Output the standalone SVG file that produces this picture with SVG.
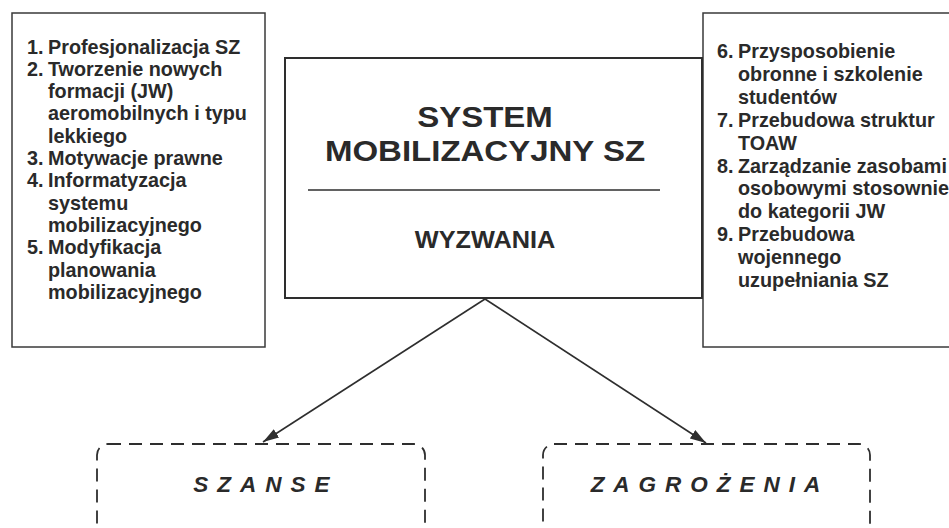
<svg xmlns="http://www.w3.org/2000/svg" width="949" height="528" viewBox="0 0 949 528">
<style>
.box{fill:none;stroke:#3a3a3a;stroke-width:1.5}
.main{fill:none;stroke:#2e2e2e;stroke-width:2}
.dash{fill:none;stroke:#2e2e2e;stroke-width:1.8;stroke-dasharray:13 8}
.t{font-family:"Liberation Sans",Arial,sans-serif;font-weight:bold;font-size:19.8px;fill:#2a2a2a}
.title{font-family:"Liberation Sans",Arial,sans-serif;font-weight:bold;font-size:30px;fill:#2a2a2a;text-anchor:middle}
.sub{font-family:"Liberation Sans",Arial,sans-serif;font-weight:bold;font-size:23px;fill:#2a2a2a;text-anchor:middle}
.it{font-family:"Liberation Sans",Arial,sans-serif;font-weight:bold;font-style:italic;font-size:22.5px;fill:#2a2a2a;text-anchor:middle;letter-spacing:9px}
.conn{stroke:#2e2e2e;stroke-width:1.6;fill:none}
</style>
<defs>
<marker id="arr" viewBox="0 0 16 10" refX="16" refY="5" markerWidth="16" markerHeight="10" markerUnits="userSpaceOnUse" orient="auto">
<path d="M0,0 L16,5 L0,10 Z" fill="#2e2e2e"/>
</marker>
</defs>
<rect width="949" height="528" fill="#ffffff"/>
<g id="left-list">
<rect class="box" x="12" y="13" width="253" height="334"/>
<text class="t" y="53.5"><tspan x="27">1.</tspan><tspan x="48">Profesjonalizacja SZ</tspan></text>
<text class="t" y="75.8"><tspan x="27">2.</tspan><tspan x="48">Tworzenie nowych</tspan></text>
<text class="t" x="48" y="98.1">formacji (JW)</text>
<text class="t" x="48" y="120.4">aeromobilnych i typu</text>
<text class="t" x="48" y="142.7">lekkiego</text>
<text class="t" y="165"><tspan x="27">3.</tspan><tspan x="48">Motywacje prawne</tspan></text>
<text class="t" y="187.3"><tspan x="27">4.</tspan><tspan x="48">Informatyzacja</tspan></text>
<text class="t" x="48" y="209.6">systemu</text>
<text class="t" x="48" y="231.9">mobilizacyjnego</text>
<text class="t" y="254.2"><tspan x="27">5.</tspan><tspan x="48">Modyfikacja</tspan></text>
<text class="t" x="48" y="276.5">planowania</text>
<text class="t" x="48" y="298.8">mobilizacyjnego</text>
</g>
<g id="right-list">
<rect class="box" x="703" y="13" width="260" height="334"/>
<text class="t" y="58"><tspan x="717">6.</tspan><tspan x="738">Przysposobienie</tspan></text>
<text class="t" x="738" y="80.9">obronne i szkolenie</text>
<text class="t" x="738" y="103.8">studentów</text>
<text class="t" y="126.7"><tspan x="717">7.</tspan><tspan x="738">Przebudowa struktur</tspan></text>
<text class="t" x="738" y="149.6">TOAW</text>
<text class="t" y="172.5"><tspan x="717">8.</tspan><tspan x="738">Zarządzanie zasobami</tspan></text>
<text class="t" x="738" y="195.4">osobowymi stosownie</text>
<text class="t" x="738" y="218.3">do kategorii JW</text>
<text class="t" y="241.2"><tspan x="717">9.</tspan><tspan x="738">Przebudowa</tspan></text>
<text class="t" x="738" y="264.1">wojennego</text>
<text class="t" x="738" y="287">uzupełniania SZ</text>
</g>
<g id="system">
<rect class="main" x="285" y="58" width="417" height="240"/>
<g transform="matrix(1.1 0 0 1 485 0)">
<text class="title" x="0" y="127.5">SYSTEM</text>
<text class="title" x="0" y="161.5">MOBILIZACYJNY SZ</text>
<text class="sub" x="0" y="248">WYZWANIA</text>
</g>
<line x1="308" y1="190" x2="660" y2="190" stroke="#2e2e2e" stroke-width="1.6"/>
</g>
<g id="szanse">
<rect class="dash" x="97" y="444" width="328" height="92" rx="11"/>
<text class="it" x="266" y="492">SZANSE</text>
</g>
<g id="zagrozenia">
<rect class="dash" x="543" y="444" width="327" height="92" rx="11"/>
<text class="it" x="710" y="492">ZAGROŻENIA</text>
</g>
<g id="connectors">
<line class="conn" x1="485" y1="299" x2="263" y2="442" marker-end="url(#arr)"/>
<line class="conn" x1="485" y1="299" x2="706" y2="443" marker-end="url(#arr)"/>
</g>
</svg>
